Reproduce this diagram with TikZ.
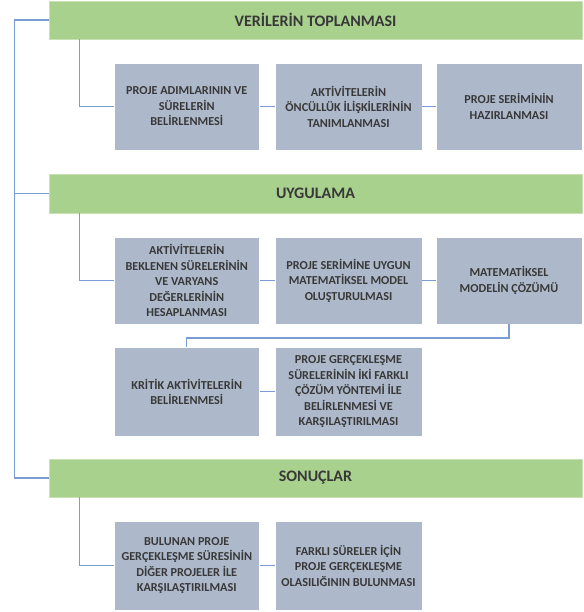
\documentclass[tikz,border=0pt]{standalone}
\usepackage{fontspec}
\setmainfont{Carlito}
\definecolor{barg}{HTML}{A9D18E}
\definecolor{barb}{HTML}{C8E2B6}
\definecolor{boxg}{HTML}{ADB9CA}
\definecolor{lnb}{HTML}{7A9BD3}
\definecolor{txtc}{HTML}{383838}
\begin{document}
\begin{tikzpicture}[x=1pt,y=-1pt,
  bar/.style={fill=barg, draw=barb, line width=0.8pt, minimum width=533pt, inner sep=0pt,
    font=\fontsize{16}{19}\selectfont\bfseries, text=txtc},
  box/.style={fill=boxg, draw=white, line width=0.8pt, inner sep=0pt, align=center,
    font=\fontsize{12.2}{15.5}\selectfont\bfseries, text=txtc},
  conn/.style={draw=lnb, line width=1.2pt}]
\useasboundingbox (0,0) rectangle (583,612);

% section bars
\node[bar, minimum height=38pt] (bar1) at (315.5,20) {VERİLERİN TOPLANMASI};
\node[bar, minimum height=39pt] (bar2) at (315.5,193.5) {UYGULAMA};
\node[bar, minimum height=38pt] (bar3) at (315.5,478) {SONUÇLAR};

% row 1
\node[box, minimum width=145.5pt, minimum height=87pt] (b11) at (186.75,106.5) {PROJE ADIMLARININ VE\\SÜRELERİN\\BELİRLENMESİ};
\node[box, minimum width=147pt, minimum height=87pt] (b12) at (348.5,106.5) {AKTİVİTELERİN\\ÖNCÜLLÜK İLİŞKİLERİNİN\\TANIMLANMASI};
\node[box, minimum width=146pt, minimum height=87pt] (b13) at (509,106.5) {PROJE SERİMİNİN\\HAZIRLANMASI};

% row 2
\node[box, minimum width=145.5pt, minimum height=87pt] (b21) at (186.75,280.5) {AKTİVİTELERİN\\BEKLENEN SÜRELERİNİN\\VE VARYANS\\DEĞERLERİNİN\\HESAPLANMASI};
\node[box, minimum width=147pt, minimum height=87pt] (b22) at (348.5,280.5) {PROJE SERİMİNE UYGUN\\MATEMATİKSEL MODEL\\OLUŞTURULMASI};
\node[box, minimum width=146pt, minimum height=87pt] (b23) at (509,280.5) {MATEMATİKSEL\\MODELİN ÇÖZÜMÜ};

% row 3
\node[box, minimum width=145.5pt, minimum height=88.5pt] (b31) at (186.75,391.75) {KRİTİK AKTİVİTELERİN\\BELİRLENMESİ};
\node[box, minimum width=147pt, minimum height=88.5pt] (b32) at (348.5,391.75) {PROJE GERÇEKLEŞME\\SÜRELERİNİN İKİ FARKLI\\ÇÖZÜM YÖNTEMİ İLE\\BELİRLENMESİ VE\\KARŞILAŞTIRILMASI};

% row 4
\node[box, minimum width=145.5pt, minimum height=88.5pt] (b41) at (186.75,565.75) {BULUNAN PROJE\\GERÇEKLEŞME SÜRESİNİN\\DİĞER PROJELER İLE\\KARŞILAŞTIRILMASI};
\node[box, minimum width=147pt, minimum height=88.5pt] (b42) at (348.5,565.75) {FARKLI SÜRELER İÇİN\\PROJE GERÇEKLEŞME\\OLASILIĞININ BULUNMASI};

% spine
\draw[conn] (bar1.west) -- ++(-34,0) |- (bar3.west);
\draw[conn] (bar2.west) -- ++(-34,0);

% bar to first box
\draw[conn] (bar1.south west) ++(31,0) |- (b11.west);
\draw[conn] (bar2.south west) ++(31,0) |- (b21.west);
\draw[conn] (bar3.south west) ++(31,0) |- (b41.west);

% box to box
\draw[conn] (b11.east) -- (b12.west);
\draw[conn] (b12.east) -- (b13.west);
\draw[conn] (b21.east) -- (b22.west);
\draw[conn] (b22.east) -- (b23.west);
\draw[conn] (b23.south) -- ++(0,13.5) -| (b31.north);
\draw[conn] (b31.east) -- (b32.west);
\draw[conn] (b41.east) -- (b42.west);
\end{tikzpicture}
\end{document}
